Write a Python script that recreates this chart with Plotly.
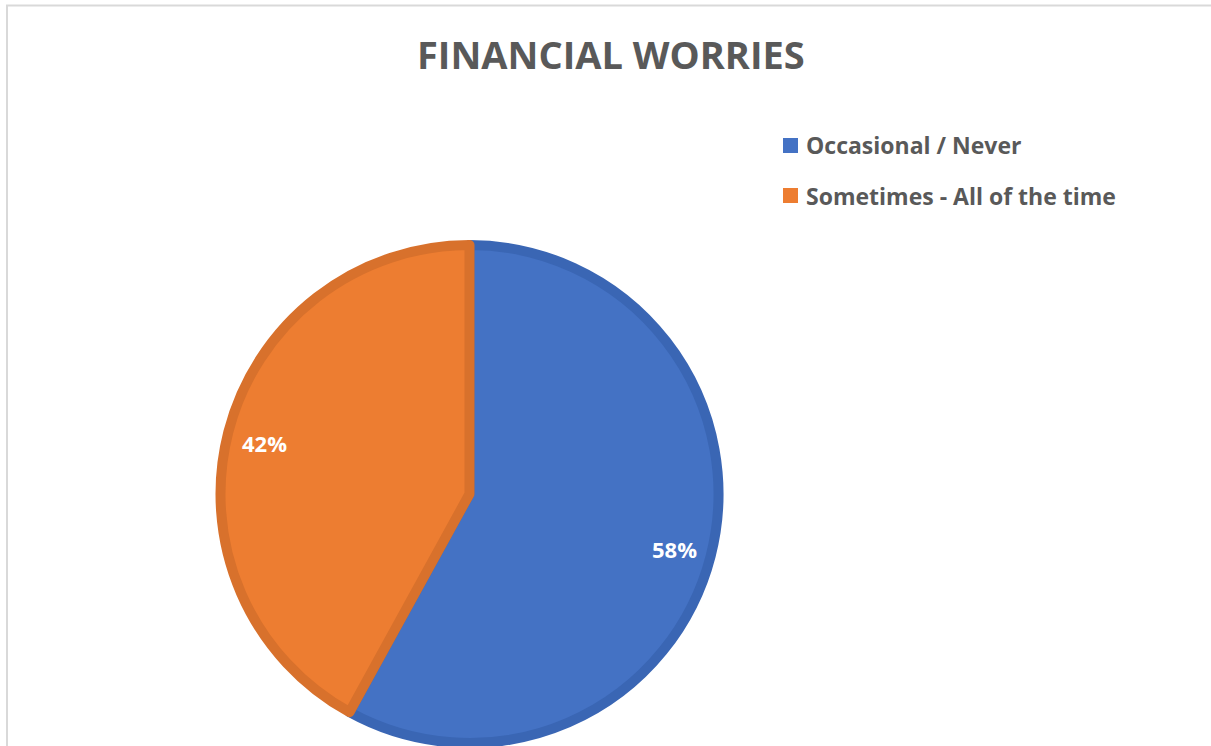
import math
import plotly.graph_objects as go

# Survey shares for the pie
categories = ["Occasional / Never", "Sometimes - All of the time"]
shares = [58, 42]
fill_colors = ["#4472C4", "#ED7D31"]
edge_colors = ["#3A66B4", "#D8712C"]

W, H = 1211, 746
TEXT_GREY = "#595959"
FONT = "Open Sans"


def px_x(x):
    return x / W


def px_y(y):
    return 1 - y / H


# Pie placement (pixels): centre and path radius
cx, cy, r = 469.5, 494, 249
edge_w = 10
label_r = 0.85 * r

fig = go.Figure()
fig.add_trace(go.Pie(
    labels=categories,
    values=shares,
    sort=False,
    direction="clockwise",
    rotation=0,
    marker=dict(colors=fill_colors, line=dict(color=edge_colors, width=edge_w)),
    textinfo="none",
    domain=dict(x=[px_x(cx - r), px_x(cx + r)], y=[px_y(cy + r), px_y(cy - r)]),
    showlegend=False,
    hoverinfo="label+percent",
))

shapes = [
    # chart-area frame
    dict(type="rect", xref="paper", yref="paper",
         x0=px_x(7), x1=1.05, y0=-0.05, y1=px_y(5.5),
         line=dict(color="#D9D9D9", width=2), fillcolor="rgba(0,0,0,0)", layer="below"),
]
annotations = [
    dict(text="<b>FINANCIAL WORRIES</b>", x=px_x(611), y=px_y(54),
         xref="paper", yref="paper", xanchor="center", yanchor="middle",
         showarrow=False, font=dict(family=FONT, size=38, color=TEXT_GREY)),
]

# Percentage labels placed on each slice's bisector, near the rim
total = sum(shares)
start = 0.0
for v in shares:
    mid = (start + v / 2) / total * 2 * math.pi
    start += v
    lx = cx + label_r * math.sin(mid)
    ly = cy - label_r * math.cos(mid)
    annotations.append(dict(text=f"<b>{round(100 * v / total)}%</b>",
                            x=px_x(lx), y=px_y(ly + 2), xref="paper", yref="paper",
                            xanchor="center", yanchor="middle", showarrow=False,
                            font=dict(family=FONT, size=22, color="white")))

# Legend entries
for i, (cat, col) in enumerate(zip(categories, fill_colors)):
    yc = 145.5 + 50 * i
    shapes.append(dict(type="rect", xref="paper", yref="paper",
                       x0=px_x(783), x1=px_x(798), y0=px_y(yc + 7.5), y1=px_y(yc - 7.5),
                       line=dict(width=0), fillcolor=col))
    annotations.append(dict(text=f"<b>{cat}</b>", x=px_x(804), y=px_y(yc),
                            xref="paper", yref="paper", xanchor="left", yanchor="middle",
                            showarrow=False,
                            font=dict(family=FONT, size=23, color=TEXT_GREY)))

fig.update_layout(
    width=W, height=H,
    margin=dict(l=0, r=0, t=0, b=0),
    paper_bgcolor="white",
    plot_bgcolor="white",
    shapes=shapes,
    annotations=annotations,
)

fig.write_html("out.html")
